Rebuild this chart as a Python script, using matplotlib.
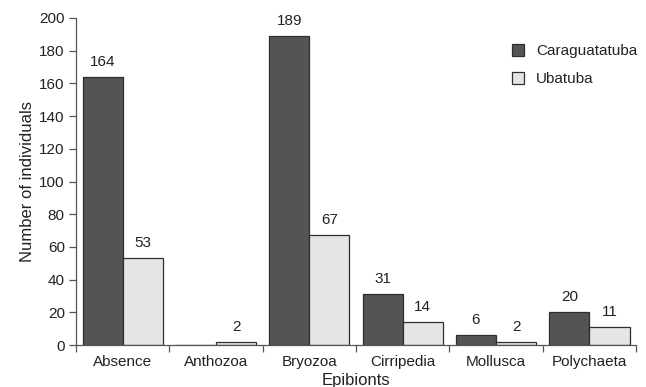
import numpy as np
import matplotlib.pyplot as plt

plt.rcParams['font.family'] = ['Liberation Sans', 'DejaVu Sans']

# Epibiont counts per site
categories = ['Absence', 'Anthozoa', 'Bryozoa', 'Cirripedia', 'Mollusca', 'Polychaeta']
caraguatatuba = [164, 0, 189, 31, 6, 20]
ubatuba = [53, 2, 67, 14, 2, 11]

dark = '#545456'
light = '#e4e5e7'
edge = '#2e2e2e'
text_col = '#222222'

fig = plt.figure(figsize=(6.46, 3.87), dpi=100)
ax = fig.add_axes([0.1176, 0.1085, 0.867, 0.845])

x = np.arange(len(categories))
w = 0.43
bars1 = ax.bar(x - w / 2, caraguatatuba, w, color=dark, edgecolor=edge, linewidth=0.9,
               label='Caraguatatuba')
bars2 = ax.bar(x + w / 2, ubatuba, w, color=light, edgecolor=edge, linewidth=0.9,
               label='Ubatuba')

# value labels above bars (no label where the count is zero)
for bars, vals in ((bars1, caraguatatuba), (bars2, ubatuba)):
    for b, v in zip(bars, vals):
        if v == 0:
            continue
        ax.text(b.get_x() + b.get_width() / 2, v + 5, str(v), ha='center', va='bottom',
                fontsize=11, color=text_col)

ax.set_xlim(-0.5, len(categories) - 0.5)
ax.set_ylim(0, 200)
ax.set_yticks(range(0, 201, 20))

# category names centred, tick marks on the boundaries
ax.set_xticks(x)
ax.set_xticklabels(categories, fontsize=11, color=text_col)
ax.tick_params(axis='x', which='major', length=0, pad=7)
ax.set_xticks(np.arange(-0.5, len(categories)), minor=True)
ax.tick_params(axis='x', which='minor', length=5, width=0.9, color='#555555', direction='out')
ax.tick_params(axis='y', length=5, width=0.9, color='#555555', labelsize=11,
               labelcolor=text_col, pad=3)

for side in ('top', 'right'):
    ax.spines[side].set_visible(False)
for side in ('left', 'bottom'):
    ax.spines[side].set_color('#555555')
    ax.spines[side].set_linewidth(0.9)

ax.set_ylabel('Number of individuals', fontsize=12, color=text_col, labelpad=3)
ax.set_xlabel('Epibionts', fontsize=12, color=text_col, labelpad=3)

ax.legend(loc='upper right', bbox_to_anchor=(1.027, 0.962), frameon=False, fontsize=11,
          handlelength=0.8, handleheight=0.8, handletextpad=0.8, labelspacing=0.9,
          labelcolor=text_col)

fig.savefig('out.png', dpi=100)
